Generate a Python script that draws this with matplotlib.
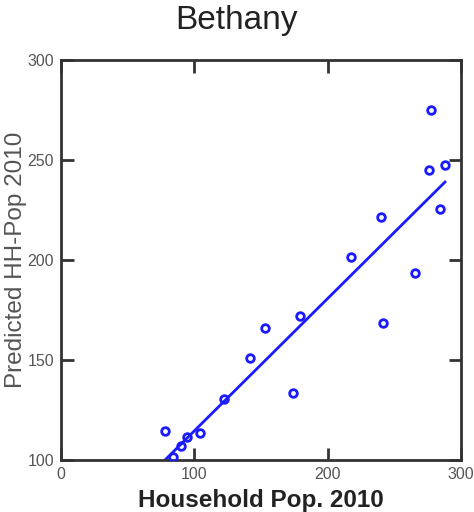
import matplotlib
matplotlib.use("Agg")
import matplotlib.pyplot as plt

# Household population vs. model prediction, Bethany (2010)
household_pop = [78, 84, 90, 94.5, 104, 122, 142, 153, 174, 179,
                 217.5, 240, 241.5, 265.5, 277.5, 276, 284, 288]
predicted_pop = [114.5, 101.5, 107, 111.5, 113.5, 130.5, 151, 166, 133.5, 172,
                 201.5, 221.5, 168.5, 193.5, 275, 245, 225.5, 247.5]

# fitted trend line end points
fit_x = [78, 288]
fit_y = [100, 239]

x_ticks = [0, 100, 200, 300]
y_ticks = [100, 150, 200, 250, 300]

plt.rcParams['font.family'] = ['Liberation Sans', 'DejaVu Sans']

fig = plt.figure(figsize=(4.74, 5.12), dpi=100)
ax = fig.add_axes([0.1287, 0.1016, 0.8439, 0.7812])

ax.plot(fit_x, fit_y, color='#1a1aff', linewidth=2, zorder=2)
ax.plot(household_pop, predicted_pop, linestyle='none', marker='o', markersize=5.5,
        markerfacecolor='none', markeredgecolor='#1a1aff', markeredgewidth=2, zorder=3)

ax.set_xlim(0, 300)
ax.set_ylim(100, 300)
ax.set_xticks(x_ticks)
ax.set_yticks(y_ticks)

for side in ax.spines.values():
    side.set_linewidth(2)
    side.set_color('#333333')

ax.tick_params(direction='in', length=9, width=2, color='#333333',
               labelsize=11.5, labelcolor='#555555', pad=5,
               top=True, right=True)

ax.set_xlabel('Household Pop. 2010', fontsize=17.5, color='#222222',
              fontweight='bold', labelpad=5)
ax.set_ylabel('Predicted HH-Pop 2010', fontsize=17.5, color='#555555', labelpad=0)

fig.text(0.5, 0.96, 'Bethany', ha='center', va='center', fontsize=24, color='#222222')

fig.savefig('out.png', dpi=100)
plt.close(fig)
